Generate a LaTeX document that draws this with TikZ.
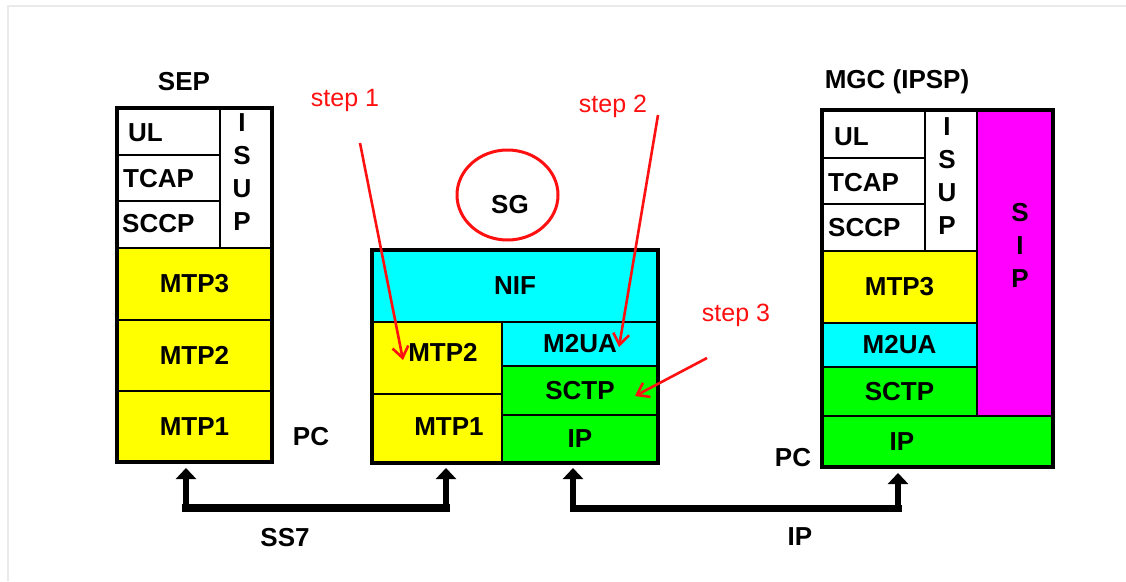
\documentclass[tikz,border=0pt]{standalone}
\usepackage{fontspec}
\setmainfont{Liberation Sans}
\usetikzlibrary{arrows.meta,shapes.geometric}
\definecolor{lyellow}{HTML}{FFFF00}
\definecolor{lcyan}{HTML}{00FFFF}
\definecolor{lgreen}{HTML}{00FF00}
\definecolor{lmagenta}{HTML}{FF00FF}
\definecolor{lred}{HTML}{FF1010}
\definecolor{frame}{HTML}{EAEAEA}
\newcommand\lblfont{\fontsize{26}{26}\selectfont\bfseries}
\newcommand\vlblfont{\fontsize{26}{33}\selectfont\bfseries}
\newcommand\stepfont{\fontsize{25}{25}\selectfont}
\tikzset{
  lay/.style={draw=black, line width=2.6pt, inner sep=0pt, font=\lblfont, rectangle},
  outerbox/.style={draw=black, line width=3.4pt, inner sep=0pt, rectangle, fill=none},
  lbl/.style={font=\lblfont, inner sep=0pt},
  vlbl/.style={font=\vlblfont, inner sep=0pt, align=center},
  steplbl/.style={font=\stepfont, text=lred, inner sep=0pt},
  redarrow/.style={draw=lred, line width=2.6pt, -{Straight Barb[length=11pt,width=16pt,line width=2.6pt]}},
  stem/.style={draw=black, line width=6pt, -{Triangle[length=11pt,width=20pt]}},
  bar/.style={draw=black, line width=8pt, line cap=rect},
}
% name, x1, y1, x2, y2, fill, text
\newcommand\layer[7]{%
  \node[lay, fill=#6, minimum width={(#4)-(#2)}, minimum height={(#5)-(#3)}]
    (#1) at ({((#2)+(#4))/2},{((#3)+(#5))/2}) {#7};}
\newcommand\outline[5]{%
  \node[outerbox, minimum width={(#4)-(#2)}, minimum height={(#5)-(#3)}]
    (#1) at ({((#2)+(#4))/2},{((#3)+(#5))/2}) {};}
\begin{document}
\begin{tikzpicture}[x=1pt,y=-1pt]
\useasboundingbox (0,0) rectangle (1126,581);
\fill[white] (0,0) rectangle (1126,581);
% faint window edge
\draw[frame, line width=2pt] (8,581) -- (8,6) -- (1126,6);

% ---------- SEP ----------
\node[lbl] (sepT) at (184,82) {SEP};
\layer{sepUL}{117}{108}{220}{155}{white}{}
\layer{sepTCAP}{117}{155}{220}{201}{white}{}
\layer{sepSCCP}{117}{201}{220}{248}{white}{}
\layer{sepISUP}{220}{108}{272}{248}{white}{}
\layer{sepMTP3}{117}{248}{272}{320}{lyellow}{MTP3}
\layer{sepMTP2}{117}{320}{272}{391}{lyellow}{MTP2}
\layer{sepMTP1}{117}{391}{272}{462}{lyellow}{MTP1}
\outline{sepOut}{117}{108}{272}{462}
\node[lbl, anchor=west] (sepULt) at (128,133) {UL};
\node[lbl, anchor=west] (sepTCAPt) at (123,179) {TCAP};
\node[lbl, anchor=west] (sepSCCPt) at (122,224) {SCCP};
\node[vlbl] (sepISUPt) at (242,172) {I\\S\\U\\P};
\node[lbl] (pc1) at (311,437) {PC};

% ---------- SG ----------
\node[draw=lred, line width=3pt, ellipse, minimum width=101pt, minimum height=90pt, inner sep=0pt] (sgE) at (507.5,195) {};
\node[lbl] (sgT) at (510,205) {SG};
\layer{sgNIF}{372}{250}{658}{322}{lcyan}{NIF}
\layer{sgMTP2}{372}{322}{502}{394}{lyellow}{}
\layer{sgMTP1}{372}{394}{502}{463}{lyellow}{}
\layer{sgM2UA}{502}{322}{658}{366}{lcyan}{M2UA}
\layer{sgSCTP}{502}{366}{658}{415}{lgreen}{SCTP}
\layer{sgIP}{502}{415}{658}{463}{lgreen}{IP}
\outline{sgOut}{372}{250}{658}{463}
\node[lbl] (sgMTP2t) at (443,352) {MTP2};
\node[lbl] (sgMTP1t) at (449,427) {MTP1};

% ---------- MGC ----------
\node[lbl] (mgcT) at (897,82) {MGC (IPSP)};
\layer{mUL}{822}{110}{925}{158}{white}{}
\layer{mTCAP}{822}{158}{925}{204}{white}{}
\layer{mSCCP}{822}{204}{925}{251}{white}{}
\layer{mISUP}{925}{110}{977}{251}{white}{}
\layer{mSIP}{977}{110}{1053}{416}{lmagenta}{}
\layer{mMTP3}{822}{251}{977}{323}{lyellow}{MTP3}
\layer{mM2UA}{822}{323}{977}{367}{lcyan}{M2UA}
\layer{mSCTP}{822}{367}{977}{416}{lgreen}{SCTP}
\layer{mIP}{822}{416}{1053}{467}{lgreen}{}
\outline{mOut}{822}{110}{1053}{467}
\node[lbl, anchor=west] (mULt) at (834,137) {UL};
\node[lbl, anchor=west] (mTCAPt) at (828,183) {TCAP};
\node[lbl, anchor=west] (mSCCPt) at (828,228) {SCCP};
\node[vlbl] (mISUPt) at (947,176) {I\\S\\U\\P};
\node[vlbl] (mSIPt) at (1020,245) {S\\I\\P};
\node[lbl] (mIPt) at (902,442) {IP};
\node[lbl] (pc2) at (793,458) {PC};

% ---------- link brackets ----------
\coordinate (ss7a) at (186,468);
\coordinate (ss7b) at (446,468);
\coordinate (ss7c) at (186,508);
\coordinate (ss7d) at (446,508);
\draw[bar] (ss7c) -- (ss7d);
\draw[stem] (ss7c) -- (ss7a);
\draw[stem] (ss7d) -- (ss7b);
\node[lbl] (ss7t) at (285,538) {SS7};

\coordinate (ipa) at (573,468);
\coordinate (ipb) at (898,473);
\coordinate (ipc) at (573,508);
\coordinate (ipd) at (898,508);
\draw[bar, line width=7pt] (ipc) -- (ipd);
\draw[stem] (ipc) -- (ipa);
\draw[stem] (ipd) -- (ipb);
\node[lbl] (ipt) at (800,537) {IP};

% ---------- steps ----------
\node[steplbl] (st1) at (345,100) {step 1};
\node[steplbl] (st2) at (613,106) {step 2};
\node[steplbl] (st3) at (736,315) {step 3};
\coordinate (s1a) at (360,143);
\coordinate (s1b) at (403,360);
\coordinate (s2a) at (658,115);
\coordinate (s2b) at (619,347);
\coordinate (s3a) at (707,358);
\coordinate (s3b) at (635,396);
\draw[redarrow] (s1a) -- (s1b);
\draw[redarrow] (s2a) -- (s2b);
\draw[redarrow] (s3a) -- (s3b);
\end{tikzpicture}
\end{document}
